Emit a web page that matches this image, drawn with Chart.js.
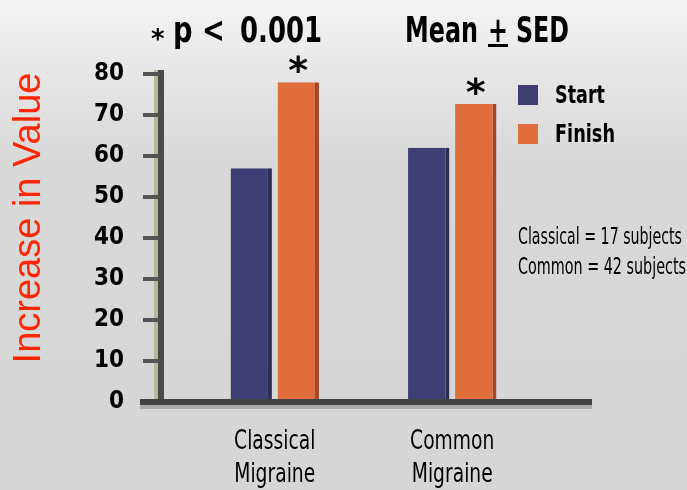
<!DOCTYPE html>
<html>
<head>
<meta charset="utf-8">
<script src="https://cdn.jsdelivr.net/npm/chart.js@4.4.1/dist/chart.umd.min.js"></script>
<style>
  html, body { margin: 0; padding: 0; }
  body {
    width: 687px; height: 490px; overflow: hidden;
    background: linear-gradient(to bottom, #f4f4f4 0px, #e4e4e4 90px, #d9d9d9 160px, #d6d6d6 490px);
  }
  #wrap { position: relative; width: 687px; height: 490px; }
</style>
</head>
<body>
<div id="wrap"><canvas id="migraineChart"></canvas></div>
<script>
var categories = [['Classical', 'Migraine'], ['Common', 'Migraine']];
var startValues = [57, 62];
var finishValues = [78, 72.7];
var yTicks = [0, 10, 20, 30, 40, 50, 60, 70, 80];
var seriesNames = ['Start', 'Finish'];
var seriesColors = ['#3e3e74', '#df6e3c'];
var notes = ['Classical = 17 subjects', 'Common = 42 subjects'];

var NARROW = "'Liberation Sans Narrow', 'DejaVu Sans Condensed', 'Arial Narrow', sans-serif";

var extras = {
  id: 'extras',
  beforeDatasetsDraw: function(chart) {
    var ctx = chart.ctx;
    var y = chart.scales.y;
    ctx.save();
    // y axis post
    ctx.fillStyle = '#b9b79a';
    ctx.fillRect(154, 70, 4, 335);
    ctx.fillStyle = '#4a4a4a';
    ctx.fillRect(158, 70, 6, 335);
    // tick marks
    yTicks.forEach(function(v) {
      var py = y.getPixelForValue(v);
      ctx.fillStyle = '#555';
      ctx.fillRect(143, py - 2, 16, 4);
    });
    ctx.restore();
  },
  afterDatasetsDraw: function(chart) {
    var ctx = chart.ctx;
    ctx.save();
    // x axis
    ctx.fillStyle = '#424242';
    ctx.fillRect(140, 399, 452, 6);
    ctx.fillStyle = '#ababab';
    ctx.fillRect(140, 405, 452, 4);
    // significance stars over finish bars
    var meta = chart.getDatasetMeta(1);
    ctx.fillStyle = '#000';
    ctx.font = 'bold 38px DejaVu Sans';
    ctx.textAlign = 'center';
    ctx.textBaseline = 'alphabetic';
    meta.data.forEach(function(bar) {
      ctx.fillText('*', bar.x, bar.y + 1);
    });
    ctx.restore();
  },
  afterDraw: function(chart) {
    var ctx = chart.ctx;
    var xs = chart.scales.x;
    ctx.save();
    ctx.fillStyle = '#000';
    ctx.textBaseline = 'alphabetic';
    ctx.textAlign = 'left';

    // header
    ctx.font = 'bold 26px DejaVu Sans';
    ctx.fillText('*', 151, 48);
    ctx.font = 'bold 35px ' + NARROW;
    ctx.fillText('p <', 173, 42, 52);
    ctx.fillText('0.001', 240, 42, 82);
    ctx.fillText('Mean', 405, 42, 73);
    ctx.fillText('+', 488, 42, 20);
    ctx.fillRect(488, 44, 20, 3);
    ctx.fillText('SED', 516, 42, 53);

    // category labels
    ctx.textAlign = 'center';
    ctx.font = '26px ' + NARROW;
    categories.forEach(function(lines, i) {
      var cx = xs.getPixelForTick(i);
      lines.forEach(function(line, j) {
        var w = ctx.measureText(line).width * 0.8;
        ctx.fillText(line, cx, 449 + j * 33, w);
      });
    });
    ctx.textAlign = 'left';

    // legend
    ctx.font = 'bold 25px ' + NARROW;
    ctx.textBaseline = 'middle';
    seriesNames.forEach(function(name, i) {
      var cy = i === 0 ? 95 : 134;
      ctx.fillStyle = seriesColors[i];
      ctx.fillRect(518, cy - 10, 20, 20);
      ctx.fillStyle = '#000';
      ctx.fillText(name, 555, cy + 1, name.length * 10);
    });

    // notes
    ctx.textBaseline = 'alphabetic';
    ctx.font = '23px ' + NARROW;
    ctx.fillText(notes[0], 518, 244, 164);
    ctx.fillText(notes[1], 518, 274, 168);

    // y axis title
    ctx.translate(40, 218);
    ctx.rotate(-Math.PI / 2);
    ctx.textAlign = 'center';
    ctx.fillStyle = '#ff2600';
    ctx.font = "38px 'Liberation Sans', Arial, sans-serif";
    ctx.fillText('Increase in Value', 0, 0, 296);
    ctx.restore();
  }
};

var config = {
  type: 'bar',
  data: {
    labels: categories,
    datasets: [{
      label: seriesNames[0],
      data: startValues,
      backgroundColor: seriesColors[0],
      borderColor: '#2e2e52',
      borderWidth: { right: 4 },
      borderSkipped: false,
      barPercentage: 0.88,
      categoryPercentage: 0.53
    }, {
      label: seriesNames[1],
      data: finishValues,
      backgroundColor: seriesColors[1],
      borderColor: '#a9452f',
      borderWidth: { right: 4 },
      borderSkipped: false,
      barPercentage: 0.88,
      categoryPercentage: 0.53
    }]
  },
  options: {
    responsive: true,
    maintainAspectRatio: false,
    animation: false,
    devicePixelRatio: 1,
    layout: { padding: { top: 74, right: 146, left: 0, bottom: 0 } },
    plugins: {
      legend: { display: false },
      tooltip: { enabled: false }
    },
    scales: {
      x: {
        grid: { display: false },
        border: { display: false },
        ticks: { display: false },
        afterFit: function(scale) { scale.height = 88; }
      },
      y: {
        min: 0,
        max: 80,
        grid: { display: false },
        border: { display: false },
        afterBuildTicks: function(scale) {
          scale.ticks = yTicks.map(function(v) { return { value: v }; });
        },
        ticks: {
          color: '#000',
          padding: 54,
          font: { family: NARROW, size: 24, weight: 'bold' }
        },
        afterFit: function(scale) { scale.width = 186; }
      }
    }
  },
  plugins: [extras]
};

var ctx = document.getElementById('migraineChart').getContext('2d');
window.migraineChart = new Chart(ctx, config);
</script>
</body>
</html>
